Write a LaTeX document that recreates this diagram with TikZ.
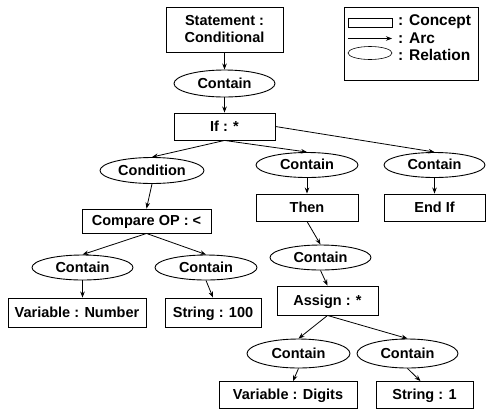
\documentclass[tikz,border=0pt]{standalone}
\usepackage{fontspec}
\setmainfont{Liberation Sans}
\usetikzlibrary{shapes.geometric,arrows.meta}
\begin{document}
\begin{tikzpicture}[x=1pt,y=-1pt,
  every node/.style={font=\fontsize{14.5}{17}\selectfont\bfseries, inner sep=0pt},
  concept/.style={draw, rectangle, line width=0.9pt, text height=10.5pt, text depth=1pt},
  relation/.style={draw, ellipse, line width=0.9pt, text height=10.5pt, text depth=1pt},
  arc/.style={line width=0.8pt, -{Stealth[length=6pt,width=4.5pt]}},
  legtext/.style={anchor=west, font=\fontsize{15.5}{18}\selectfont\bfseries}]
\useasboundingbox (0,0) rectangle (486,410);
% nodes
\node[concept, minimum width=117pt, minimum height=45pt, align=center, text height=] (stmt) at (224.5,29.5) {Statement :\\Conditional};
\node[relation, minimum width=101pt, minimum height=27pt] (c1) at (224.5,83.5) {Contain};
\node[concept, minimum width=101pt, minimum height=27pt] (if) at (224.5,126.5) {If : *};
\node[relation, minimum width=104pt, minimum height=26pt] (cond) at (152,170.5) {Condition};
\node[relation, minimum width=102pt, minimum height=25pt] (c2) at (307,165) {Contain};
\node[relation, minimum width=101pt, minimum height=25pt] (c3) at (434.5,165) {Contain};
\node[concept, minimum width=102pt, minimum height=27pt] (then) at (307,207.5) {Then};
\node[concept, minimum width=101pt, minimum height=27pt] (endif) at (434.5,207.5) {End If};
\node[concept, minimum width=129pt, minimum height=24pt] (cmp) at (146.5,221) {Compare OP : <};
\node[relation, minimum width=101pt, minimum height=25pt] (c4) at (320.5,257.5) {Contain};
\node[relation, minimum width=101pt, minimum height=25pt] (c5) at (82.5,267.5) {Contain};
\node[relation, minimum width=102pt, minimum height=25pt] (c6) at (206,267.5) {Contain};
\node[concept, minimum width=138pt, minimum height=29pt] (vn) at (77,312.5) {Variable : Number};
\node[concept, minimum width=96pt, minimum height=29pt] (s100) at (213,312.5) {String : 100};
\node[concept, minimum width=101pt, minimum height=29pt] (assign) at (327.5,300.5) {Assign : *};
\node[relation, minimum width=103pt, minimum height=29pt] (c7) at (298.5,353.5) {Contain};
\node[relation, minimum width=101pt, minimum height=29pt] (c8) at (407.5,353.5) {Contain};
\node[concept, minimum width=138pt, minimum height=27pt] (vd) at (288,395) {Variable : Digits};
\node[concept, minimum width=97pt, minimum height=27pt] (s1) at (424.5,395) {String : 1};
% arcs
\draw[arc] (stmt.south) -- (c1.north);
\draw[arc] (c1.south) -- (if.north);
\draw[arc] (if.south) -- (cond.north);
\draw[arc] (if.south) -- (c2.north);
\draw[arc] (if.east) -- (c3.north);
\draw[arc] (cond.south) -- (cmp.north);
\draw[arc] (c2.south) -- (then.north);
\draw[arc] (c3.south) -- (endif.north);
\draw[arc] (then.south) -- (c4.north);
\draw[arc] (cmp.south) -- (c5.north);
\draw[arc] (cmp.south) -- (c6.north);
\draw[arc] (c5.south) -- (c5.south |- vn.north);
\draw[arc] (c6.south) -- (s100.north);
\draw[arc] (c4.south) -- (assign.north);
\draw[arc] (assign.south) -- (c7.north);
\draw[arc] (assign.south) -- (c8.north);
\draw[arc] (c7.south) -- ([xshift=5pt]vd.north);
\draw[arc] (c8.south) -- ([xshift=-4pt]s1.north);
% legend
\node[draw, line width=0.9pt, minimum width=134pt, minimum height=73pt] (legend) at (411,43.5) {};
\node[draw, line width=0.6pt, minimum width=44pt, minimum height=9pt] (lrect) at (370,22.5) {};
\coordinate (la0) at (348,38.5);
\coordinate (la1) at (392,38.5);
\draw[arc, line width=0.6pt] (la0) -- (la1);
\node[draw, ellipse, line width=0.6pt, minimum width=44pt, minimum height=13pt] (lell) at (370,53) {};
\node[legtext] (tc) at (398,22) {: Concept};
\node[legtext] (ta) at (398,38.5) {: Arc};
\node[legtext] (tr) at (398,55) {: Relation};
\end{tikzpicture}
\end{document}
